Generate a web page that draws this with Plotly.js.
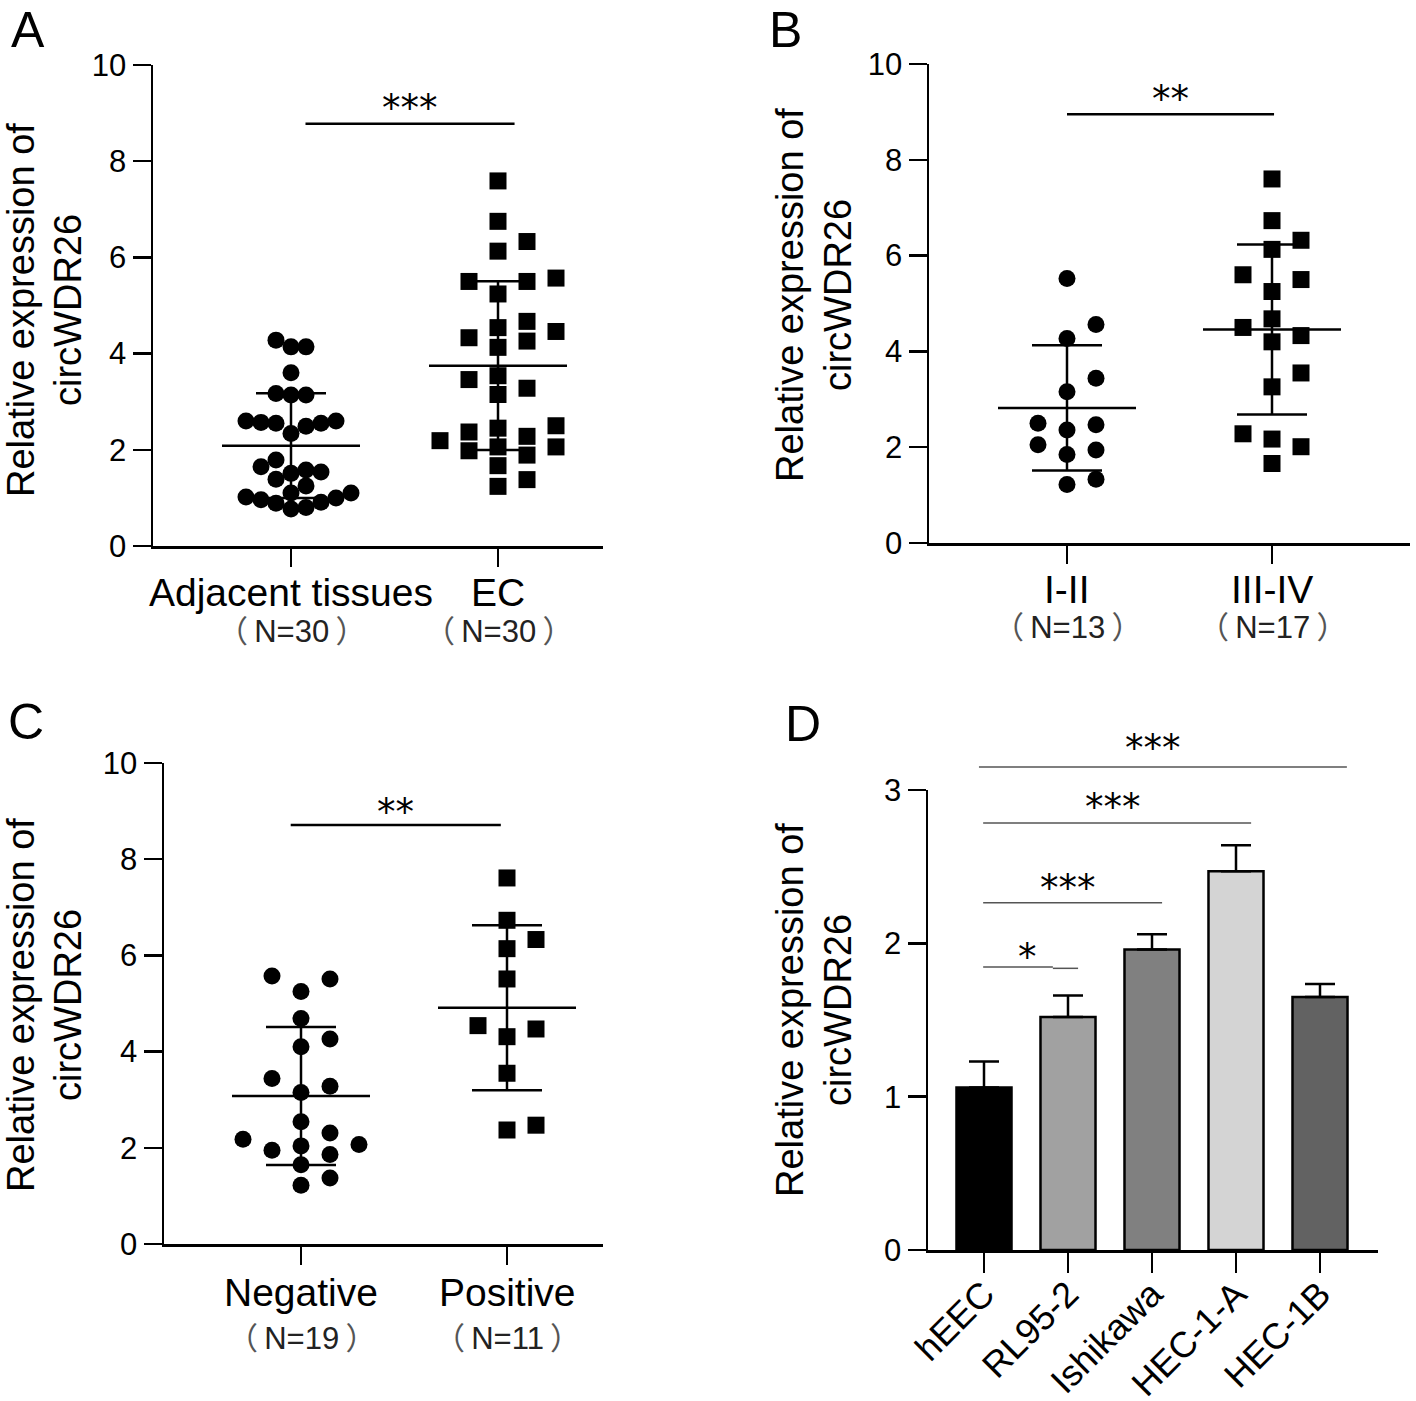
<!DOCTYPE html>
<html>
<head>
<meta charset="utf-8">
<script src="https://cdn.plot.ly/plotly-3.0.1.min.js"></script>
<style>
  html, body { margin: 0; padding: 0; background: #fff; }
  #fig { width: 1416px; height: 1401px; }
</style>
</head>
<body>
<div id="fig"></div>
<script>
// ---- data ----
// A: adjacent tissue vs EC
const adjacentVals = [4.14, 4.28, 4.14, 3.60, 3.17, 3.14, 3.14, 2.60, 2.57, 2.55,
                      2.34, 2.49, 2.55, 2.60, 1.79, 1.65, 1.51, 1.54, 1.58, 1.39,
                      1.25, 1.10, 1.00, 1.10, 0.91, 1.02, 0.89, 0.96, 0.80, 0.77];
const ecVals = [7.59, 6.75, 6.33, 6.13, 5.57, 5.50, 5.50, 5.24, 4.46, 4.54,
                4.67, 4.33, 4.13, 4.26, 3.54, 3.46, 3.28, 3.15, 2.45, 2.50,
                2.37, 2.28, 2.06, 2.19, 1.98, 2.06, 1.89, 1.67, 1.38, 1.24];
// B: FIGO stage
const stageLowVals = [5.52, 4.56, 4.27, 3.44, 3.16, 2.47, 2.50, 2.36, 1.94, 2.05, 1.85, 1.33, 1.22];
const stageHighVals = [7.60, 6.73, 6.32, 6.13, 5.50, 5.60, 5.25, 4.68, 4.33, 4.50,
                       4.20, 3.55, 3.26, 2.28, 2.17, 2.01, 1.66];
// C: lymph node metastasis
const negativeVals = [5.57, 5.51, 5.25, 4.69, 4.26, 4.10, 3.44, 3.28, 3.15, 2.54,
                      2.31, 2.18, 2.07, 2.04, 1.95, 1.86, 1.65, 1.37, 1.22];
const positiveVals = [7.61, 6.73, 6.33, 6.14, 5.51, 4.47, 4.54, 4.31, 3.55, 2.37, 2.47];
// D: cell lines
const cellLines = ["hEEC", "RL95-2", "Ishikawa", "HEC-1-A", "HEC-1B"];
const cellMeans = [1.06, 1.52, 1.96, 2.47, 1.65];
const cellErrs = [0.17, 0.14, 0.10, 0.17, 0.085];
const cellColors = ["#000000", "#a1a1a1", "#808080", "#d4d4d4", "#626262"];
const cellSigLabels = ["*", "***", "***", "***"];
const cellSigLevels = [1.845, 2.265, 2.785, 3.15];

// ---- page geometry ----
const W = 1416, H = 1401;
const FONT = "Liberation Sans, Arial, Noto Sans CJK SC, sans-serif";
const STAR_FONT = "DejaVu Sans, sans-serif";
const fx = p => p / W;
const fy = p => 1 - p / H;

const panels = [
  { letter: "A", groups: [adjacentVals, ecVals], labels: ["Adjacent tissues", "EC"],
    nLabels: ["N=30", "N=30"], frame: {left: 153, right: 603, top: 65, bottom: 546},
    centers: [291, 498], swarmStep: [15, 29], stars: "***", sigX: [0.07, 1.08], sigY: 8.78, starY: 9.1,
    letterPos: [28, 0], titleX: [21, 68], titleY: 310, labelY: 592, nY: 632 },
  { letter: "B", groups: [stageLowVals, stageHighVals], labels: ["I-II", "III-IV"],
    nLabels: ["N=13", "N=17"], frame: {left: 929, right: 1410, top: 64, bottom: 543},
    centers: [1067, 1272], swarmStep: [29, 29], stars: "**", sigX: [0.0, 1.01], sigY: 8.95, starY: 9.25,
    letterPos: [785, 0], titleX: [790, 838], titleY: 295, labelY: 590, nY: 627 },
  { letter: "C", groups: [negativeVals, positiveVals], labels: ["Negative", "Positive"],
    nLabels: ["N=19", "N=11"], frame: {left: 164, right: 603, top: 763, bottom: 1244},
    centers: [301, 507], swarmStep: [29, 29], stars: "**", sigX: [-0.05, 0.97], sigY: 8.71, starY: 8.98,
    letterPos: [26, 692], titleX: [21, 68], titleY: 1005, labelY: 1292, nY: 1338 }
];
const panelD = { frame: {left: 928, right: 1378, top: 790, bottom: 1250}, firstCenter: 984, step: 84,
                 letterPos: [803, 694], titleX: [790, 838], titleY: 1010 };

// simple beeswarm: spread points sideways into slots so markers don't pile up
function swarmSlots(vals, stepPx, pxPerY, minDist){
  const order = vals.map((v, i) => i).sort((a, b) => vals[a] - vals[b]);
  const placed = [];
  const slots = new Array(vals.length).fill(0);
  for(const i of order){
    const ypx = vals[i] * pxPerY;
    for(let k = 0; k < 60; k++){
      const s = k === 0 ? 0 : (k % 2 ? Math.ceil(k/2) : -Math.ceil(k/2));
      const ok = placed.every(p => Math.hypot((p.s - s) * stepPx, p.y - ypx) >= minDist);
      if(ok){ slots[i] = s; placed.push({s: s, y: ypx}); break; }
    }
  }
  return slots;
}
const mean = a => a.reduce((s, v) => s + v, 0) / a.length;
const sd = a => { const m = mean(a); return Math.sqrt(a.reduce((s, v) => s + (v - m) ** 2, 0) / (a.length - 1)); };

const traces = [];
const shapes = [];
const annotations = [];
const layout = {
  width: W, height: H,
  margin: {l: 0, r: 0, t: 0, b: 0},
  paper_bgcolor: "#fff", plot_bgcolor: "rgba(0,0,0,0)",
  showlegend: false,
  font: {family: FONT, color: "#000"}
};

const axisCommon = {
  showline: true, linewidth: 2.5, linecolor: "#000",
  ticks: "outside", ticklen: 18, tickwidth: 2.5, tickcolor: "#000",
  showgrid: false, zeroline: false, fixedrange: true
};

function addTitle(p){
  const lines = ["Relative expression of", "circWDR26"];
  lines.forEach((t, i) => annotations.push({
    text: t, xref: "paper", yref: "paper", x: fx(p.titleX[i]), y: fy(p.titleY),
    xanchor: "center", yanchor: "middle", textangle: -90, showarrow: false,
    font: {size: 38, family: FONT}
  }));
}
function addLetter(letter, pos){
  annotations.push({ text: letter, xref: "paper", yref: "paper", x: fx(pos[0]), y: fy(pos[1]),
    xanchor: "center", yanchor: "top", showarrow: false, font: {size: 50, family: FONT} });
}
// full-width brackets as in the original figure, with a little air inside
const paren = t => "<span style='color:#555'>（</span>\u2009" + t + "\u2009<span style='color:#555'>）</span>";

panels.forEach((p, idx) => {
  const n = idx + 1;
  const xa = "x" + n, ya = "y" + n;
  const fr = p.frame;
  const unit = p.centers[1] - p.centers[0];
  const pxPerY = (fr.bottom - fr.top) / 10;

  layout["xaxis" + n] = Object.assign({}, axisCommon, {
    domain: [fx(fr.left), fx(fr.right)], anchor: ya,
    range: [(fr.left - p.centers[0]) / unit, (fr.right - p.centers[0]) / unit],
    tickvals: [0, 1], showticklabels: false
  });
  layout["yaxis" + n] = Object.assign({}, axisCommon, {
    domain: [fy(fr.bottom), fy(fr.top)], anchor: xa,
    range: [0, 10], tickvals: [0, 2, 4, 6, 8, 10], tickfont: {size: 31}
  });

  p.groups.forEach((vals, gi) => {
    const step = p.swarmStep[gi];
    const slots = swarmSlots(vals, step, pxPerY, gi === 0 && step < 20 ? 15 : 17);
    traces.push({
      type: "scatter", mode: "markers", xaxis: xa, yaxis: ya,
      x: vals.map((v, i) => gi + slots[i] * step / unit), y: vals,
      marker: {symbol: gi === 0 ? "circle" : "square", size: 17, color: "#000"},
      hoverinfo: "y"
    });
    // mean line and SD whiskers
    const m = mean(vals), s = sd(vals);
    const half = 69 / unit, cap = 35 / unit;
    const ln = {color: "#000", width: 2.5};
    shapes.push({type: "line", xref: xa, yref: ya, x0: gi - half, x1: gi + half, y0: m, y1: m, line: ln, layer: "above"});
    shapes.push({type: "line", xref: xa, yref: ya, x0: gi - cap, x1: gi + cap, y0: m + s, y1: m + s, line: ln, layer: "above"});
    shapes.push({type: "line", xref: xa, yref: ya, x0: gi - cap, x1: gi + cap, y0: m - s, y1: m - s, line: ln, layer: "above"});
    shapes.push({type: "line", xref: xa, yref: ya, x0: gi, x1: gi, y0: m - s, y1: m + s, line: ln, layer: "above"});
    // category label + sample size
    annotations.push({ text: p.labels[gi], xref: xa, yref: "paper", x: gi, y: fy(p.labelY),
      xanchor: "center", yanchor: "middle", showarrow: false, font: {size: 39} });
    annotations.push({ text: paren(p.nLabels[gi]), xref: xa, yref: "paper", x: gi, y: fy(p.nY),
      xanchor: "center", yanchor: "middle", showarrow: false, font: {size: 31, color: "#222"} });
  });

  // significance bar
  shapes.push({type: "line", xref: xa, yref: ya, x0: p.sigX[0], x1: p.sigX[1], y0: p.sigY, y1: p.sigY,
               line: {color: "#000", width: 2.5}});
  annotations.push({ text: p.stars, xref: xa, yref: ya,
    x: (p.sigX[0] + p.sigX[1]) / 2, y: p.starY, xanchor: "center", yanchor: "middle",
    showarrow: false, font: {size: 37, family: STAR_FONT} });

  addTitle(p);
  addLetter(p.letter, p.letterPos);
});

// ---- panel D: bars ----
{
  const fr = panelD.frame;
  const unit = panelD.step;
  const yPaper = v => fy(fr.bottom - v * (fr.bottom - fr.top) / 3);
  layout.xaxis4 = Object.assign({}, axisCommon, {
    domain: [fx(fr.left), fx(fr.right)], anchor: "y4", type: "category",
    range: [(fr.left - panelD.firstCenter) / unit, (fr.right - panelD.firstCenter) / unit],
    ticklen: 20, tickangle: -45, tickfont: {size: 36}, ticklabelstandoff: -14
  });
  layout.yaxis4 = Object.assign({}, axisCommon, {
    domain: [fy(fr.bottom), fy(fr.top)], anchor: "x4",
    range: [0, 3], tickvals: [0, 1, 2, 3], tickfont: {size: 31}
  });
  traces.push({
    type: "bar", xaxis: "x4", yaxis: "y4",
    x: cellLines, y: cellMeans, width: 0.655,
    marker: {color: cellColors, line: {color: "#000", width: 2.5}},
    error_y: {type: "data", array: cellErrs, arrayminus: cellErrs.map(() => 0), symmetric: false,
              color: "#000", thickness: 2.5, width: 15},
    hoverinfo: "x+y"
  });

  // comparisons against hEEC (index 0)
  const sigEnds = [1.12, 2.12, 3.18, 4.32];
  const sigStarts = [-0.01, -0.01, -0.01, -0.06];
  const starX = [0.52, 1.0, 1.54, 2.01];
  const starOffset = [0.06, 0.09, 0.1, 0.12];
  const gray = {color: "#555", width: 1.5};
  cellSigLabels.forEach((lab, i) => {
    const lv = cellSigLevels[i];
    if(i === 0){
      shapes.push({type: "line", xref: "x4", yref: "paper", x0: sigStarts[i], x1: 0.82,
                   y0: yPaper(lv), y1: yPaper(lv), line: gray});
      shapes.push({type: "line", xref: "x4", yref: "paper", x0: 0.82, x1: sigEnds[i],
                   y0: yPaper(lv - 0.008), y1: yPaper(lv - 0.008), line: gray});
    } else {
      shapes.push({type: "line", xref: "x4", yref: "paper", x0: sigStarts[i], x1: sigEnds[i],
                   y0: yPaper(lv), y1: yPaper(lv), line: gray});
    }
    annotations.push({ text: lab, xref: "x4", yref: "paper",
      x: starX[i], y: yPaper(lv + starOffset[i]), xanchor: "center", yanchor: "middle",
      showarrow: false, font: {size: 37, family: STAR_FONT} });
  });

  addTitle(panelD);
  addLetter("D", panelD.letterPos);
}

layout.shapes = shapes;
layout.annotations = annotations;

Plotly.newPlot("fig", traces, layout, {displayModeBar: false, staticPlot: true});
</script>
</body>
</html>
